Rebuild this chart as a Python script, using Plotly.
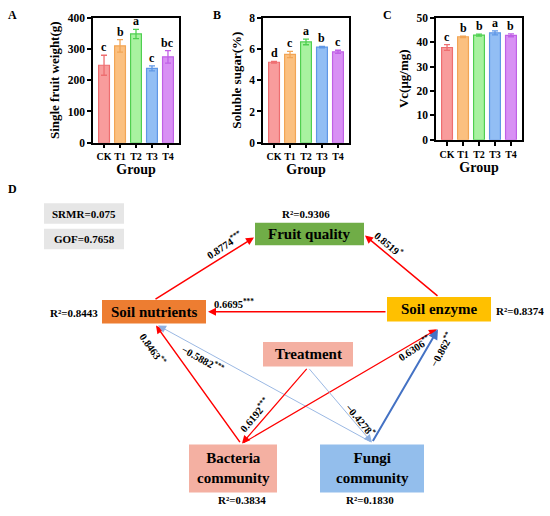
import plotly.graph_objects as go

# ---------------- data ----------------
groups = ["CK", "T1", "T2", "T3", "T4"]
weight = [248, 310, 348, 238, 275]
weight_err = [32, 20, 15, 8, 20]
weight_letters = ["c", "b", "a", "c", "bc"]
sugar = [5.15, 5.65, 6.45, 6.12, 5.82]
sugar_err = [0.05, 0.2, 0.18, 0.04, 0.1]
sugar_letters = ["d", "c", "a", "b", "c"]
vc = [37.8, 42.2, 42.9, 43.8, 42.8]
vc_err = [1.2, 0.3, 0.4, 0.8, 0.6]
vc_letters = ["c", "b", "b", "a", "b"]

# SEM data
nodes = ["Fruit quality", "Soil nutrients", "Soil enzyme", "Treatment", "Bacteria community", "Fungi community"]
r2_values = {"Fruit quality": "0.9306", "Soil nutrients": "0.8443", "Soil enzyme": "0.8374",
             "Bacteria community": "0.3834", "Fungi community": "0.1830"}
fit_labels = ["SRMR=0.075", "GOF=0.7658"]
edges_from = ["Soil nutrients", "Soil enzyme", "Soil enzyme", "Bacteria community", "Fungi community",
              "Treatment", "Bacteria community", "Fungi community", "Treatment"]
edges_to = ["Fruit quality", "Fruit quality", "Soil nutrients", "Soil nutrients", "Soil nutrients",
            "Bacteria community", "Soil enzyme", "Soil enzyme", "Fungi community"]
edge_coef = ["0.8774", "0.8519", "0.6695", "0.8463", "−0.5882", "0.6192", "0.6306", "−0.862", "−0.4278"]
edge_sig = ["***", "*", "***", "**", "***", "***", "**", "**", "*"]

# ---------------- styles / layout ----------------
W, H = 550, 516
FONT = "Liberation Serif, Times New Roman, serif"
fill_cols = ["#F89C9C", "#FBC080", "#A8F2A0", "#92BEF4", "#D890F4"]
line_cols = ["#EE6E70", "#F2A555", "#4FCF50", "#5F97E6", "#C060E6"]

panels = [
    dict(vals=weight, err=weight_err, let=weight_letters, title="Single fruit weight(g)",
         dom=(93, 179, 12, 140), rng=[0, 400], dtick=100, lab="A", labpos=(6, 9)),
    dict(vals=sugar, err=sugar_err, let=sugar_letters, title="Soluble sugar(%)",
         dom=(263, 349, 12, 140), rng=[0, 8], dtick=2, lab="B", labpos=(211, 9)),
    dict(vals=vc, err=vc_err, let=vc_letters, title="Vc(μg/mg)",
         dom=(436, 522, 12, 137), rng=[0, 50], dtick=10, lab="C", labpos=(381, 9)),
]

fig = go.Figure()
annotations = []
shapes = []
layout = dict(width=W, height=H, margin=dict(l=0, r=0, t=0, b=0),
              paper_bgcolor="white", plot_bgcolor="rgba(0,0,0,0)", showlegend=False,
              font=dict(family=FONT, color="black"))

for i, p in enumerate(panels):
    k = i + 1
    xa = "x" if k == 1 else f"x{k}"
    ya = "y" if k == 1 else f"y{k}"
    for j, g in enumerate(groups):
        fig.add_trace(go.Bar(
            x=[j], y=[p["vals"][j]], width=0.68, xaxis=xa, yaxis=ya,
            marker=dict(color=fill_cols[j], line=dict(color=line_cols[j], width=1.2)),
            error_y=dict(type="data", array=[p["err"][j]], color=line_cols[j], thickness=1.3, width=3),
        ))
        annotations.append(dict(x=j, y=p["vals"][j] + p["err"][j], xref=xa, yref=ya,
                                text=f"<b>{p['let'][j]}</b>", showarrow=False, yanchor="bottom",
                                yshift=-1, font=dict(size=12, family=FONT)))
    x0, x1, y0, y1 = p["dom"]
    yt = list(range(p["rng"][0], p["rng"][1] + 1, p["dtick"]))
    axkw = dict(showline=True, linecolor="black", linewidth=1.5, mirror=True, ticks="outside",
                ticklen=4, tickwidth=1.5, tickcolor="black", showgrid=False, zeroline=False)
    layout["xaxis" + ("" if k == 1 else str(k))] = dict(
        domain=[x0 / W, x1 / W], range=[-0.69, 4.69], tickvals=list(range(5)),
        ticktext=[f"<b>{g}</b>" for g in groups], tickangle=0,
        tickfont=dict(size=10, family=FONT), anchor=ya,
        title=dict(text="<b>Group</b>", font=dict(size=14, family=FONT), standoff=3), **axkw)
    layout["yaxis" + ("" if k == 1 else str(k))] = dict(
        domain=[1 - y1 / H, 1 - y0 / H], range=p["rng"], tickvals=yt,
        ticktext=[f"<b>{v}</b>" for v in yt], anchor=xa,
        tickfont=dict(size=11.5, family=FONT),
        title=dict(text=f"<b>{p['title']}</b>", font=dict(size=13, family=FONT), standoff=5), **axkw)
    annotations.append(dict(x=p["labpos"][0] / W, y=1 - p["labpos"][1] / H, xref="paper", yref="paper",
                            text=f"<b>{p['lab']}</b>", showarrow=False, font=dict(size=12, family=FONT),
                            xanchor="left", yanchor="middle"))

# ---------------- SEM diagram (pixel coordinate axes) ----------------
layout["xaxis4"] = dict(domain=[0, 1], range=[0, W], visible=False, anchor="y4", fixedrange=True)
layout["yaxis4"] = dict(domain=[0, 1], range=[H, 0], visible=False, anchor="x4", fixedrange=True)

box_geom = {
    "Fruit quality": (255, 222, 364, 245, "#70AD47"),
    "Soil nutrients": (102, 301, 206, 325, "#ED7D31"),
    "Soil enzyme": (387, 298, 491, 323, "#FFC000"),
    "Treatment": (263, 344, 353, 369, "#F4B0A2"),
    "Bacteria community": (189, 449, 277, 498, "#F4B0A2"),
    "Fungi community": (320, 449, 424, 498, "#93BEEC"),
}
box_text = {"Bacteria community": "Bacteria<br>community", "Fungi community": "Fungi<br>community"}
r2_pos = {
    "Fruit quality": (306, 213, "center"),
    "Soil nutrients": (100, 314, "right"),
    "Soil enzyme": (494, 312, "left"),
    "Bacteria community": (242, 506, "center"),
    "Fungi community": (370, 506, "center"),
}
fit_geom = [(44, 202, 124, 223), (44, 228, 124, 249)]

# edges: tail point, head point, colour, width, label centre, label angle
edge_style = [
    ((154, 301), (254, 237), "#FF0000", 1.5, (224, 244), -33),
    ((439, 298), (365, 235), "#FF0000", 1.5, (389, 243), 40),
    ((387, 313), (208, 313), "#FF0000", 1.5, (234, 305), 0),
    ((241, 448), (156, 327), "#FF0000", 1.5, (153, 351), 55),
    ((372, 447), (158, 327), "#8FB0E0", 0.9, (203, 361), 29),
    ((308, 370), (242, 448), "#FF0000", 1.2, (254, 418), -50),
    ((242, 448), (437, 331), "#FF0000", 1.2, (414, 350), -33),
    ((372, 447), (438, 331), "#4472C4", 2.0, (441, 352), -61),
    ((308, 370), (372, 447), "#8FB0E0", 0.9, (361, 423), 50),
]

for n in nodes:
    x0, y0, x1, y1, col = box_geom[n]
    shapes.append(dict(type="rect", xref="x4", yref="y4", x0=x0, y0=y0, x1=x1, y1=y1,
                       fillcolor=col, line=dict(width=0), layer="below"))
    annotations.append(dict(x=(x0 + x1) / 2, y=(y0 + y1) / 2, xref="x4", yref="y4",
                            text=f"<b>{box_text.get(n, n)}</b>", showarrow=False,
                            font=dict(size=15, family=FONT, color="black")))
    if n in r2_values:
        rx, ry, al = r2_pos[n]
        annotations.append(dict(x=rx, y=ry, xref="x4", yref="y4", text=f"<b>R²={r2_values[n]}</b>",
                                showarrow=False, xanchor=al, font=dict(size=11, family=FONT)))

for (x0, y0, x1, y1), t in zip(fit_geom, fit_labels):
    shapes.append(dict(type="rect", xref="x4", yref="y4", x0=x0, y0=y0, x1=x1, y1=y1,
                       fillcolor="#E6E6E6", line=dict(width=0), layer="below"))
    annotations.append(dict(x=(x0 + x1) / 2, y=(y0 + y1) / 2, xref="x4", yref="y4", text=f"<b>{t}</b>",
                            showarrow=False, font=dict(size=11, family=FONT)))

annotations.append(dict(x=6, y=187, xref="x4", yref="y4", text="<b>D</b>", showarrow=False,
                        xanchor="left", font=dict(size=12, family=FONT)))

for (tail, head, col, w, lab, ang), c, s in zip(edge_style, edge_coef, edge_sig):
    annotations.append(dict(x=head[0], y=head[1], ax=tail[0], ay=tail[1], xref="x4", yref="y4",
                            axref="x4", ayref="y4", text="", showarrow=True, arrowhead=2,
                            arrowsize=max(1.0, 1.6 / w), arrowwidth=w, arrowcolor=col, standoff=0))
    annotations.append(dict(x=lab[0], y=lab[1], xref="x4", yref="y4", textangle=ang,
                            text=f"<b>{c}<sup>{s}</sup></b>", showarrow=False,
                            font=dict(size=10.5, family=FONT)))

layout["annotations"] = annotations
layout["shapes"] = shapes
fig.update_layout(**layout)
fig.write_html("out.html", config={"displayModeBar": False},
               post_script="document.body.style.margin='0px';")
